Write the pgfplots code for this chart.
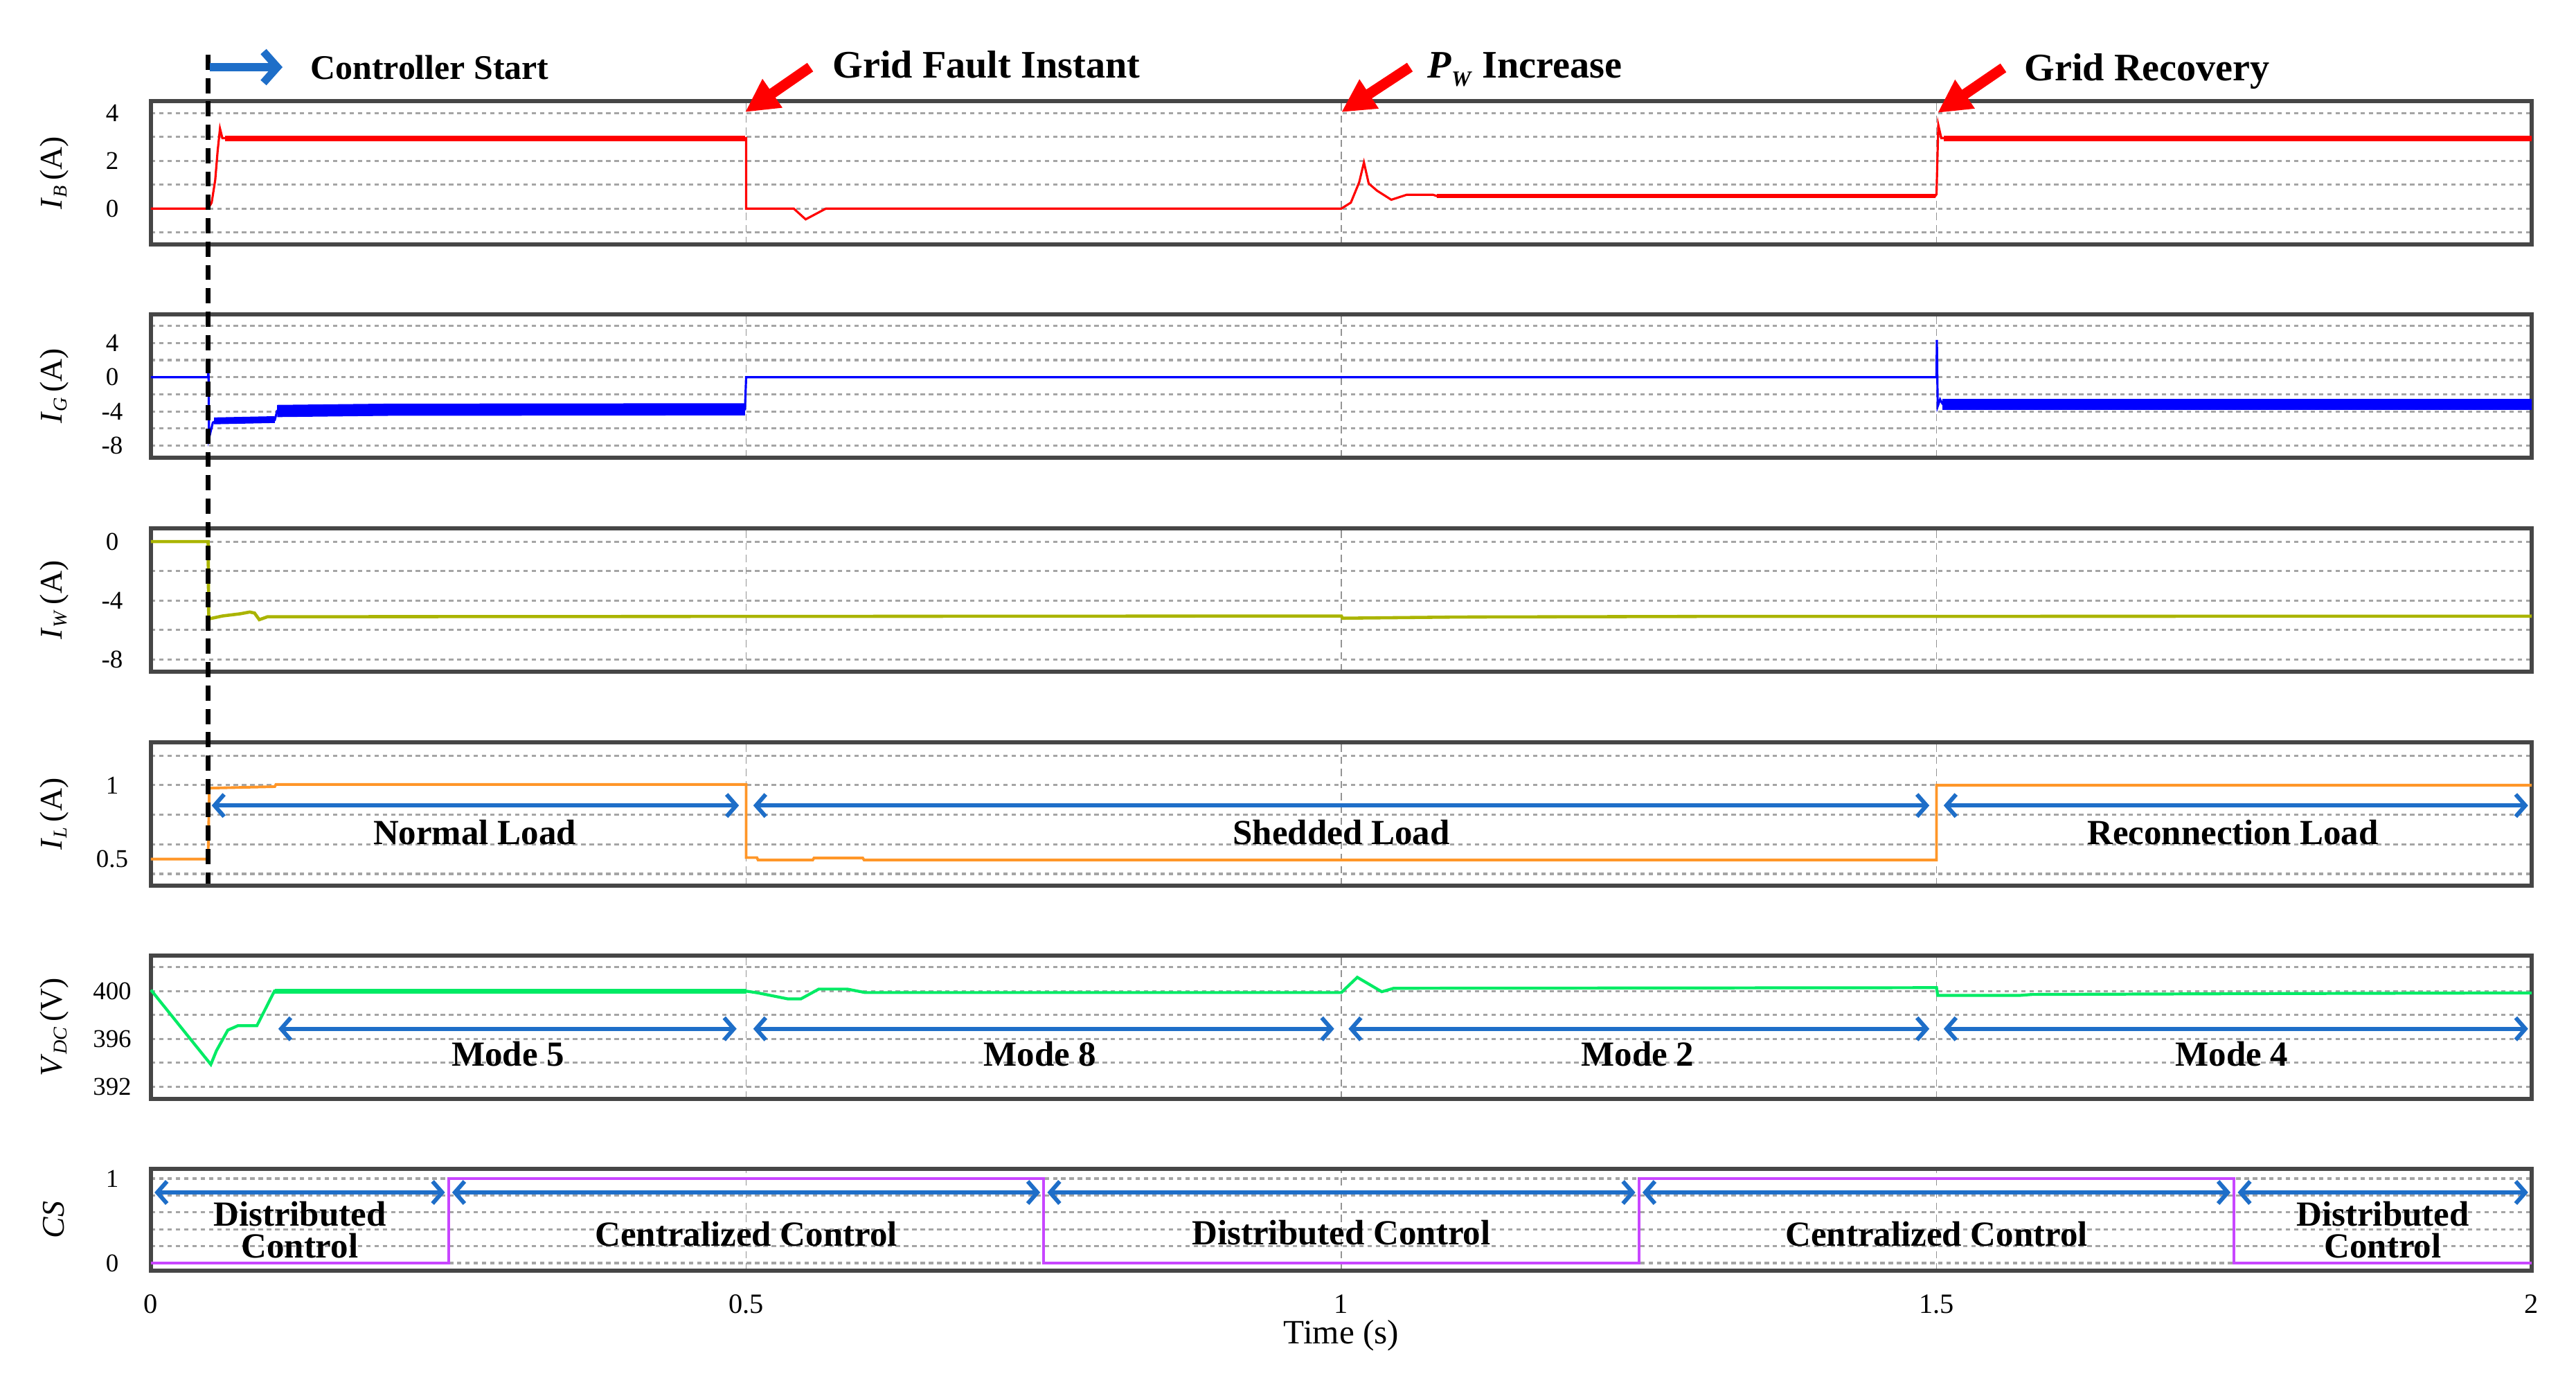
\documentclass[border=0pt]{standalone}
\usepackage{fontspec}
\setmainfont{Liberation Serif}
\usepackage{pgfplots}
\pgfplotsset{compat=1.18}
\usetikzlibrary{arrows.meta}

\definecolor{frame}{RGB}{70,70,70}
\definecolor{gridc}{RGB}{165,165,165}
\definecolor{ibred}{RGB}{255,0,0}
\definecolor{igblue}{RGB}{0,0,255}
\definecolor{iwolive}{RGB}{170,180,0}
\definecolor{ilorange}{RGB}{255,150,40}
\definecolor{vgreen}{RGB}{0,235,100}
\definecolor{csviolet}{RGB}{200,70,255}
\definecolor{arrblue}{RGB}{30,110,200}

\newcommand{\lblfont}{\fontsize{14.5}{13}\selectfont\bfseries}
\newcommand{\topfont}{\fontsize{16}{18}\selectfont\bfseries}

\tikzset{
  darrow/.style={arrblue, line width=1.7pt,
    {Straight Barb[length=0.14cm,width=0.32cm]}-{Straight Barb[length=0.14cm,width=0.32cm]}},
}

\pgfplotsset{
  panel/.style={
    scale only axis, width=34.38cm, height=2.07cm,
    at={(2.18cm,#1)}, anchor=south west,
    xmin=0, xmax=2, xtick={0,0.5,1,1.5,2}, xticklabels={},
    axis line style={draw=frame, line width=1.5pt},
    major tick length=0pt, minor tick length=0pt,
    xmajorgrids, ymajorgrids, yminorgrids,
    major x grid style={draw=gray!85, line width=0.45pt, dash pattern=on 3pt off 2pt},
    major y grid style={draw=gridc, line width=0.9pt, dash pattern=on 1.8pt off 1.6pt},
    minor y grid style={draw=gridc, line width=0.9pt, dash pattern=on 1.8pt off 1.6pt},
    /pgf/number format/assume math mode=true,
    yticklabel style={font=\fontsize{10.5}{12}\selectfont, anchor=center, xshift=-0.56cm},
    ylabel style={at={(axis description cs:-0.0407,0.5)}, anchor=center, font=\fontsize{13}{15}\selectfont},
    clip=false,
  },
}

\begin{document}
\begin{tikzpicture}
\path (0,0) rectangle (37.2,20.03);

% I_B
\begin{axis}[panel=16.50cm, ymin=-1.5, ymax=4.5, ytick={0,2,4}, minor ytick={-1,1,3},
  ylabel={\textit{I}\raisebox{-0.35ex}{\footnotesize\textit{B}}\,(A)}]
\addplot[ibred, line width=0.9pt] coordinates {(0,0) (0.048,0) (0.051,0.25) (0.054,1.2) (0.056,2.4) (0.058,3.35) (0.060,2.95) (0.5,2.95) (0.5,0) (0.54,0) (0.55,-0.45) (0.567,0) (1.0,0) (1.008,0.25) (1.015,1.1) (1.019,1.93) (1.023,1.05) (1.030,0.75) (1.042,0.37) (1.055,0.58) (1.077,0.58) (1.08,0.53) (1.499,0.53) (1.5,0.6) (1.5015,3.5) (1.504,2.95) (2,2.95)};
\addplot[ibred, line width=2.3pt] coordinates {(0.062,2.93) (0.499,2.93)};
\addplot[ibred, line width=2.3pt] coordinates {(1.506,2.93) (2,2.93)};
\addplot[ibred, line width=1.7pt] coordinates {(1.08,0.53) (1.499,0.53)};
\end{axis}

% I_G
\begin{axis}[panel=13.42cm, ymin=-9.4, ymax=7.33, ytick={-8,-4,0,4}, minor ytick={-6,-2,2,6},
  ylabel={\textit{I}\raisebox{-0.35ex}{\footnotesize\textit{G}}\,(A)}]
\addplot[igblue, line width=0.9pt] coordinates {(0,0) (0.048,0) (0.0483,1.6) (0.0488,-7.1) (0.052,-5.3) (0.056,-5.0) (0.104,-5.0) (0.106,-3.95) (0.2,-3.8) (0.499,-3.75) (0.5,0) (1.5,0) (1.5003,4.35) (1.501,-3.4) (1.503,-2.6) (1.505,-3.1) (2,-3.1)};
\addplot[igblue, line width=2.8pt] coordinates {(0.053,-5.1) (0.104,-4.95)};
\addplot[igblue, line width=5pt] coordinates {(0.106,-3.95) (0.2,-3.8) (0.499,-3.75)};
\addplot[igblue, line width=4.6pt] coordinates {(1.505,-3.15) (2,-3.15)};
\end{axis}

% I_W
\begin{axis}[panel=10.33cm, ymin=-8.83, ymax=0.9, ytick={-8,-4,0}, minor ytick={-6,-2},
  ylabel={\textit{I}\raisebox{-0.35ex}{\footnotesize\textit{W}}\,(A)}]
\addplot[iwolive, line width=1.3pt] coordinates {(0,0) (0.048,0) (0.0485,-5.25) (0.06,-5.05) (0.075,-4.9) (0.083,-4.78) (0.087,-4.85) (0.091,-5.3) (0.098,-5.1) (1.0,-5.05) (1.001,-5.2) (1.1,-5.12) (1.3,-5.08) (2,-5.06)};
\end{axis}

% I_L
\begin{axis}[panel=7.24cm, ymin=0.32, ymax=1.29, ytick={0.5,1}, ymajorgrids=false,
  minor ytick={0.4,0.6,0.8,1,1.2},
  ylabel={\textit{I}\raisebox{-0.35ex}{\footnotesize\textit{L}}\,(A)}]
\addplot[ilorange, line width=1.1pt] coordinates {(0,0.5) (0.048,0.5) (0.049,0.98) (0.104,0.99) (0.105,1.005) (0.5,1.005) (0.5,0.51) (0.509,0.51) (0.51,0.494) (0.556,0.494) (0.557,0.507) (0.598,0.507) (0.599,0.494) (1.5,0.494) (1.5,1.0) (2,1.0)};
\draw[darrow] (axis cs:0.051,0.8625) -- (axis cs:0.494,0.8625);
\draw[darrow] (axis cs:0.506,0.8625) -- (axis cs:1.494,0.8625);
\draw[darrow] (axis cs:1.506,0.8625) -- (axis cs:1.997,0.8625);
\node[font=\lblfont] at (axis cs:0.272,0.68) {Normal Load};
\node[font=\lblfont] at (axis cs:1.0,0.68) {Shedded Load};
\node[font=\lblfont] at (axis cs:1.749,0.68) {Reconnection Load};
\end{axis}

% V_DC
\begin{axis}[panel=4.16cm, ymin=390.96, ymax=402.98, ytick={392,396,400}, minor ytick={394,398,402},
  ylabel={\textit{V}\raisebox{-0.35ex}{\footnotesize\textit{DC}}\,(V)}]
\addplot[vgreen, line width=1.2pt] coordinates {(0,400.1) (0.0503,393.85) (0.055,395.0) (0.0646,396.73) (0.073,397.1) (0.089,397.1) (0.1037,400.0) (0.5,400.0) (0.51,399.85) (0.525,399.55) (0.535,399.35) (0.546,399.35) (0.561,400.17) (0.585,400.17) (0.6,399.88) (1.0,399.88) (1.0134,401.16) (1.034,399.95) (1.044,400.24) (1.5,400.29) (1.501,399.64) (1.57,399.64) (1.58,399.72) (1.8,399.8) (2,399.85)};
\addplot[vgreen, line width=2pt] coordinates {(0.104,400.0) (0.5,400.0)};
\draw[darrow] (axis cs:0.107,396.84) -- (axis cs:0.492,396.84);
\draw[darrow] (axis cs:0.506,396.84) -- (axis cs:0.994,396.84);
\draw[darrow] (axis cs:1.006,396.84) -- (axis cs:1.494,396.84);
\draw[darrow] (axis cs:1.506,396.84) -- (axis cs:1.997,396.84);
\node[font=\lblfont] at (axis cs:0.30,394.75) {Mode 5};
\node[font=\lblfont] at (axis cs:0.747,394.75) {Mode 8};
\node[font=\lblfont] at (axis cs:1.249,394.75) {Mode 2};
\node[font=\lblfont] at (axis cs:1.748,394.75) {Mode 4};
\end{axis}

% CS
\begin{axis}[panel=1.68cm, height=1.47cm, ymin=-0.09, ymax=1.114, ytick={0,1}, minor ytick={0.2,0.4,0.6,0.8},
  xticklabels={0,0.5,1,1.5,2},
  xticklabel style={font=\fontsize{11.5}{13}\selectfont, anchor=center, yshift=-0.48cm},
  xlabel={Time (s)},
  xlabel style={at={(axis description cs:0.5,0)}, anchor=center, yshift=-0.94cm, font=\fontsize{14}{16}\selectfont},
  ylabel={\textit{CS}}]
\addplot[csviolet, line width=1.2pt] coordinates {(0,0) (0.25,0) (0.25,1) (0.75,1) (0.75,0) (1.25,0) (1.25,1) (1.75,1) (1.75,0) (2,0)};
\draw[darrow] (axis cs:0.003,0.835) -- (axis cs:0.247,0.835);
\draw[darrow] (axis cs:0.253,0.835) -- (axis cs:0.747,0.835);
\draw[darrow] (axis cs:0.753,0.835) -- (axis cs:1.247,0.835);
\draw[darrow] (axis cs:1.253,0.835) -- (axis cs:1.747,0.835);
\draw[darrow] (axis cs:1.753,0.835) -- (axis cs:1.997,0.835);
\node[font=\lblfont, align=center] at (axis cs:0.125,0.39) {Distributed\\Control};
\node[font=\lblfont] at (axis cs:0.5,0.34) {Centralized Control};
\node[font=\lblfont] at (axis cs:1.0,0.36) {Distributed Control};
\node[font=\lblfont] at (axis cs:1.5,0.34) {Centralized Control};
\node[font=\lblfont, align=center] at (axis cs:1.875,0.39) {Distributed\\Control};
\end{axis}

% annotations above the first panel
\draw[black, line width=2pt, dash pattern=on 6.2pt off 3.4pt] (3.005,19.24) -- (3.005,7.27);
\draw[arrblue, line width=3.2pt, -{Straight Barb[length=0.2cm,width=0.45cm]}] (3.03,19.06) -- (4.08,19.06);
\node[font=\fontsize{14.2}{16}\selectfont\bfseries, anchor=base west] at (4.36,18.88) {Controller Start};
\draw[ibred, line width=4.3pt, -{Triangle[length=0.48cm,width=0.47cm]}] (11.70,19.06) -- (10.76,18.41);
\draw[ibred, line width=4.3pt, -{Triangle[length=0.48cm,width=0.47cm]}] (20.36,19.06) -- (19.37,18.41);
\draw[ibred, line width=4.3pt, -{Triangle[length=0.48cm,width=0.47cm]}] (28.93,19.05) -- (27.98,18.40);
\node[font=\topfont, anchor=base west] at (11.90,18.90) {Grid Fault Instant};
\node[font=\topfont, anchor=base west] at (20.49,18.90) {\textit{P}\raisebox{-0.45ex}{\small\textit{W}} Increase};
\node[font=\topfont, anchor=base west] at (29.11,18.86) {Grid Recovery};
\end{tikzpicture}
\end{document}
